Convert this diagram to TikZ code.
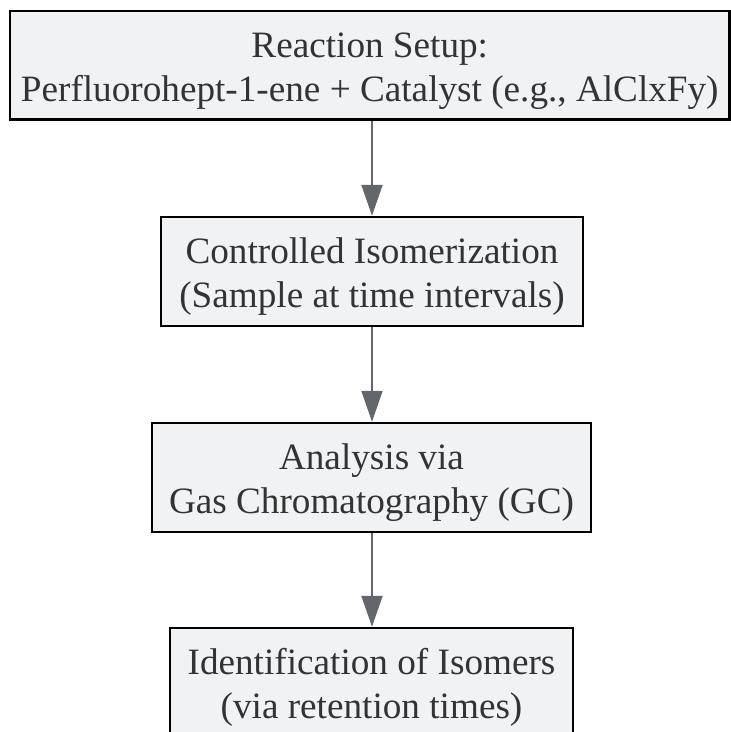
\documentclass[tikz,border=0pt]{standalone}
\usepackage{fontspec}
\setmainfont{Liberation Serif}
\usetikzlibrary{arrows.meta}
\definecolor{boxfill}{HTML}{F1F2F4}
\definecolor{arrowgray}{HTML}{63666B}
\definecolor{txtgray}{HTML}{333333}
\begin{document}
\begin{tikzpicture}[x=1pt,y=-1pt,
  stepbox/.style={draw=black,line width=2.5pt,fill=boxfill,rectangle,inner sep=0pt},
  steptext/.style={anchor=north,inner sep=0pt,align=center,text=txtgray,
    font=\fontsize{37.2}{44}\selectfont},
  flowarrow/.style={draw=arrowgray,line width=2pt,-{Triangle[length=31pt,width=21pt]}}]
\useasboundingbox (0,0) rectangle (731,732);
\clip (0,0) rectangle (731,732);
\fill[white] (0,0) rectangle (731,732);
\node[stepbox,minimum width=719.5pt,minimum height=108.5pt] (b1) at (369.75,65.25) {};
\node[stepbox,minimum width=422pt,minimum height=109pt] (b2) at (372,271.5) {};
\node[stepbox,minimum width=439pt,minimum height=109pt] (b3) at (371.5,477.5) {};
\node[stepbox,minimum width=403pt,minimum height=110pt] (b4) at (371.5,683) {};
\node[steptext] (t1) at (369.75,26.2) {\strut Reaction Setup:\\Perfluorohept-1-ene + Catalyst (e.g., AlClxFy)};
\node[steptext] (t2) at (372,232.2) {\strut Controlled Isomerization\\(Sample at time intervals)};
\node[steptext] (t3) at (371.5,438.2) {\strut Analysis via\\Gas Chromatography (GC)};
\node[steptext] (t4) at (371.5,643.2) {\strut Identification of Isomers\\(via retention times)};
\draw[flowarrow] (b1.south -| b2.north) -- (b2.north);
\draw[flowarrow] (b2.south) -- (b3.north -| b2.south);
\draw[flowarrow] (b3.south -| b2.south) -- (b4.north -| b2.south);
\end{tikzpicture}
\end{document}
